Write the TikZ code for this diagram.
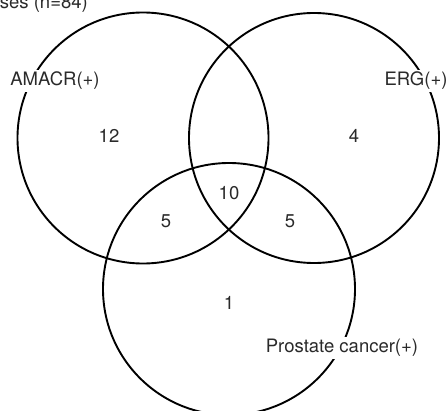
\documentclass[tikz,border=0pt]{standalone}
\usepackage{fontspec}
\setmainfont{TeX Gyre Heros}
\usetikzlibrary{positioning}

\definecolor{txtgray}{HTML}{2A2A2A}

\begin{document}
\begin{tikzpicture}[
        x=1pt, y=1pt,
        font=\fontsize{18.5}{20}\selectfont,
        setcircle/.style={draw, line width=1.9pt},
        setlabel/.style={fill=white, inner sep=2pt, text=txtgray},
        count/.style={text=txtgray, inner sep=1pt}
    ]

    \useasboundingbox (0,0) rectangle (446,410);

    % ---- the three sets ----
    \draw[setcircle] (143,272) circle (125.5);
    \draw[setcircle] (314,272) circle (125);
    \draw[setcircle] (229,121) circle (126);

    % ---- set names (they break the circle lines) ----
    \node[setlabel] (amacr) at (55,329) {AMACR(+)};
    \node[setlabel] (erg) at (416,329) {ERG(+)};
    \node[setlabel] (pca) at (342,62) {Prostate cancer(+)};

    % ---- counts per region ----
    \node[count] (nA) at (109,274) {12};
    \node[count] (nB) at (354,274) {4};
    \node[count] (nABC) at (229,217) {10};
    \node[count] (nAC) at (166,189) {5};
    \node[count] (nBC) at (290,189) {5};
    \node[count] (nC) at (229,107) {1};

    % ---- title, cut by the top edge as in the source ----
    \node[count, anchor=base east, inner sep=0pt] (title) at (88,401) {ses (n=84)};

\end{tikzpicture}
\end{document}
